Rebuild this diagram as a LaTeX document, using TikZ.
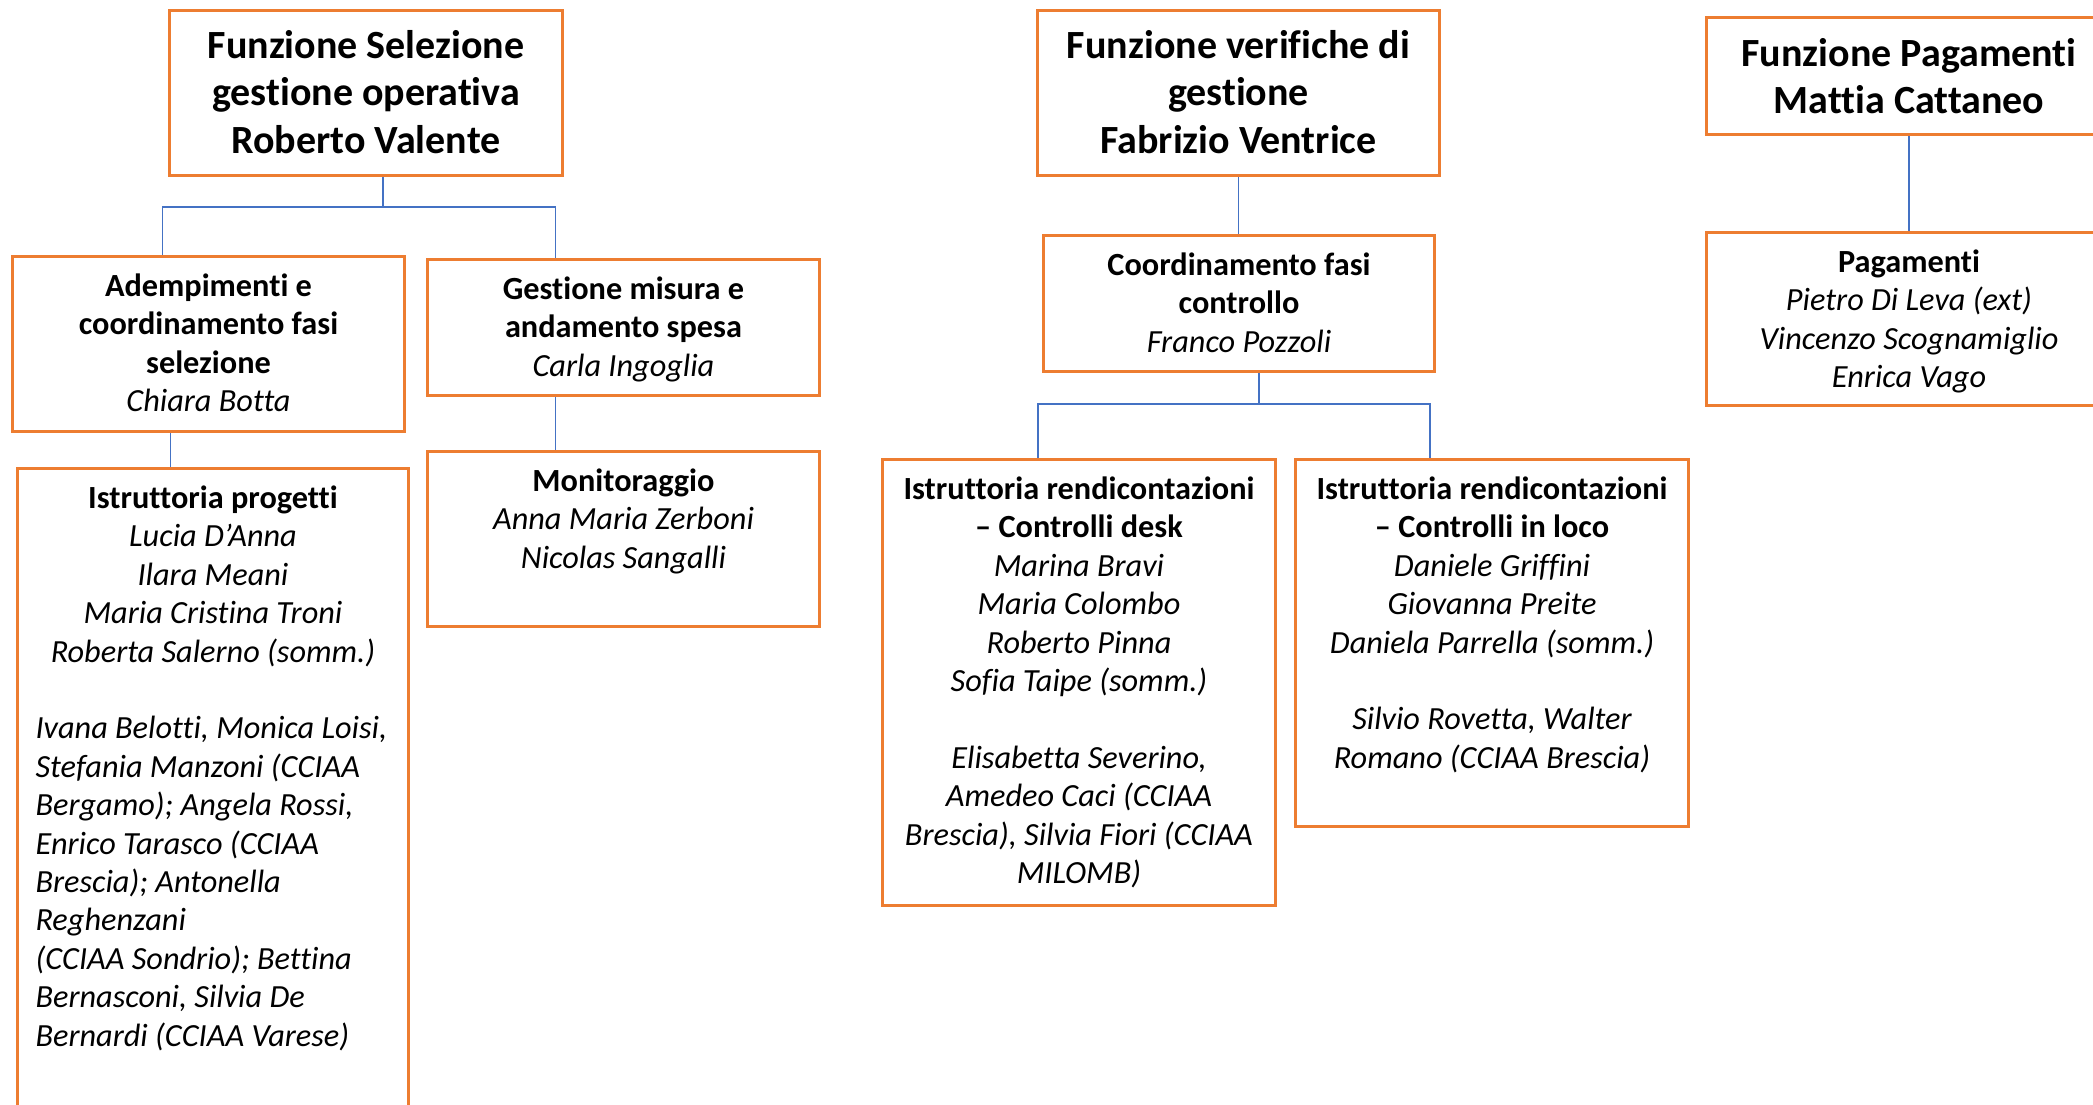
\documentclass[tikz,border=0pt]{standalone}
\usepackage{fontspec}
\setmainfont{Carlito}[Ligatures=NoCommon]
\usepackage{tikz}
\definecolor{boxOrange}{HTML}{ED7D31}
\definecolor{linkBlue}{HTML}{4472C4}
\newcommand{\unitText}[3]{\parbox[c][#1][t]{#2}{\centering\fontsize{32.3}{38.4}\selectfont\rule{0pt}{40pt}#3}}
\newcommand{\headText}[4]{\parbox[c][#1][t]{#2}{\centering\fontsize{40}{47.5}\selectfont\bfseries\rule{0pt}{#3}#4}}

\begin{document}
\begin{tikzpicture}[x=1pt, y=-1pt]
        \tikzstyle{boxStyle} = [draw=boxOrange, line width=3pt, fill=white,
                                inner xsep=15pt, inner ysep=0pt, anchor=north west]
        \tikzstyle{linkStyle} = [draw=linkBlue, line width=1.5pt]
        \useasboundingbox[fill=white] (0,0) rectangle (2093,1105);
        \node[boxStyle] (A) at (168,9) {\headText{165pt}{363pt}{48pt}{Funzione Selezione\\ gestione operativa\\ Roberto Valente}};
        \node[boxStyle] (F) at (1036,9) {\headText{165pt}{372pt}{48pt}{Funzione verifiche di\\ gestione\\ Fabrizio Ventrice}};
        \node[boxStyle] (J) at (1705,16) {\headText{117pt}{375pt}{49pt}{Funzione Pagamenti\\ Mattia Cattaneo}};
        \node[boxStyle] (B) at (11,255) {\unitText{175pt}{362pt}{\textbf{Adempimenti e}\\ \textbf{coordinamento fasi}\\ \textbf{selezione}\\ \textit{Chiara Botta}}};
        \node[boxStyle] (C) at (426,258) {\unitText{136pt}{362pt}{\textbf{Gestione misura e}\\ \textbf{andamento spesa}\\ \textit{Carla Ingoglia}}};
        \node[boxStyle, inner xsep=18pt] (D) at (16,467) {\unitText{663pt}{355pt}{\textbf{Istruttoria progetti}\\ \itshape Lucia D’Anna\\ Ilara Meani\\ Maria Cristina Troni\\ Roberta Salerno (somm.)\par
            \vspace{38.4pt}\raggedright Ivana Belotti, Monica Loisi,\\ Stefania Manzoni (CCIAA\\ Bergamo); Angela Rossi,\\ Enrico Tarasco (CCIAA\\ Brescia); Antonella\\ Reghenzani\\ (CCIAA Sondrio); Bettina\\ Bernasconi, Silvia De\\ Bernardi (CCIAA Varese)}};
        \node[boxStyle] (E) at (426,450) {\unitText{175pt}{362pt}{\textbf{Monitoraggio}\\ \itshape Anna Maria Zerboni\\ Nicolas Sangalli}};
        \node[boxStyle] (G) at (1042,234) {\unitText{136pt}{361pt}{\textbf{Coordinamento fasi}\\ \textbf{controllo}\\ \textit{Franco Pozzoli}}};
        \node[boxStyle] (H) at (881,458) {\unitText{446pt}{363pt}{\textbf{Istruttoria rendicontazioni}\\ \textbf{– Controlli desk}\\ \itshape Marina Bravi\\ Maria Colombo\\ Roberto Pinna\\ Sofia Taipe (somm.)\\[38.4pt] Elisabetta Severino,\\ Amedeo Caci (CCIAA\\ Brescia), Silvia Fiori (CCIAA\\ MILOMB)}};
        \node[boxStyle] (I) at (1294,458) {\unitText{367pt}{363pt}{\textbf{Istruttoria rendicontazioni}\\ \textbf{– Controlli in loco}\\ \itshape Daniele Griffini\\ Giovanna Preite\\ Daniela Parrella (somm.)\\[38.4pt] Silvio Rovetta, Walter\\ Romano (CCIAA Brescia)}};
        \node[boxStyle] (K) at (1705,231) {\unitText{173pt}{375pt}{\textbf{Pagamenti}\\ \itshape Pietro Di Leva (ext)\\ Vincenzo Scognamiglio\\ Enrica Vago}};
        \coordinate (forkA) at (383,207);
        \coordinate (forkG) at (1259,404);
        \path[linkStyle] (forkA |- A.south) -- (forkA);
        \path[linkStyle] ([xshift=-46pt]B.north) |- (forkA) -| ([xshift=-68pt]C.north);
        \path[linkStyle] (forkG |- G.south) -- (forkG);
        \path[linkStyle] ([xshift=-41pt]H.north) |- (forkG) -| ([xshift=-62pt]I.north);
        \foreach \from/\to/\dx in {B/D/-38, C/E/-68, F/G/0, J/K/0}
            \path[linkStyle] ([xshift=\dx pt]\from.south) -- ([xshift=\dx pt]\from.south |- \to.north);
    \end{tikzpicture}
\end{document}
